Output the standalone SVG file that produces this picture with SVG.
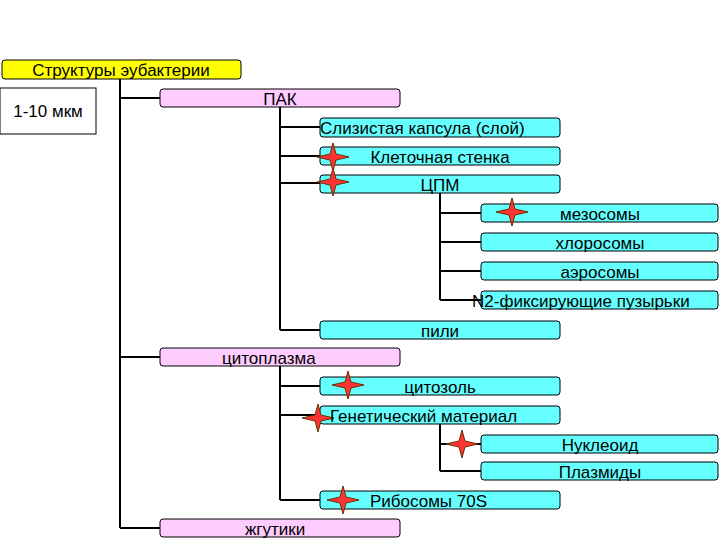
<svg xmlns="http://www.w3.org/2000/svg" xmlns:xlink="http://www.w3.org/1999/xlink" width="720" height="540" viewBox="0 0 720 540">
<defs>
<style>
text{font-family:"Liberation Sans",Arial,sans-serif;font-size:17px;fill:#000}
.c{fill:#66ffff;stroke:#000;stroke-width:1}
.p{fill:#ffccff;stroke:#000;stroke-width:1}
.y{fill:#ffff00;stroke:#000;stroke-width:1}
.l{stroke:#000;stroke-width:2;fill:none}
</style>
<path id="star" d="M0,-14 L3,-3 L16,0 L3,3 L0,14 L-3,3 L-16,0 L-3,-3 Z" fill="#ff3333" stroke="#663300" stroke-width="1"/>
</defs>
<rect width="720" height="540" fill="#fff"/>
<g id="connectors" class="l">
<path d="M120,79V528M120,98H160M120,357H160M120,528H160"/>
<path d="M280,107V330M280,127H320M280,156H320M280,183H320M280,330H320"/>
<path d="M440,193V300M440,213H481M440,242H481M440,271H481M440,300H481"/>
<path d="M280,366V500M280,386H320M280,415H320M280,500H320"/>
<path d="M440,424V471M440,444H481M440,471H481"/>
</g>
<g id="root"><rect class="y" x="2" y="60" width="239" height="19" rx="3"/><text x="121" y="76" text-anchor="middle">Структуры эубактерии</text></g>
<g id="size"><rect x="0" y="88" width="96" height="46" fill="#fff" stroke="#000"/><text x="48" y="117" text-anchor="middle" font-size="15">1-10 мкм</text></g>
<g id="pak"><rect class="p" x="160" y="89" width="240" height="18" rx="3"/><text x="280" y="105" text-anchor="middle">ПАК</text></g>
<g id="capsule"><rect class="c" x="320" y="118" width="240" height="19" rx="3"/><text x="320" y="134">Слизистая капсула (слой)</text></g>
<g id="wall"><rect class="c" x="320" y="147" width="240" height="18" rx="3"/><use xlink:href="#star" x="333" y="157"/><text x="440" y="163" text-anchor="middle">Клеточная стенка</text></g>
<g id="cpm"><rect class="c" x="320" y="175" width="240" height="18" rx="3"/><use xlink:href="#star" x="333" y="182"/><text x="440" y="191" text-anchor="middle">ЦПМ</text></g>
<g id="meso"><rect class="c" x="481" y="204" width="237" height="18" rx="3"/><use xlink:href="#star" x="512" y="212"/><text x="600" y="220" text-anchor="middle">мезосомы</text></g>
<g id="chloro"><rect class="c" x="481" y="233" width="237" height="18" rx="3"/><text x="600" y="249" text-anchor="middle">хлоросомы</text></g>
<g id="aero"><rect class="c" x="481" y="262" width="237" height="18" rx="3"/><text x="600" y="278" text-anchor="middle">аэросомы</text></g>
<g id="n2"><rect class="c" x="481" y="291" width="237" height="18" rx="3"/><text x="472" y="307">N2-фиксирующие пузырьки</text></g>
<g id="pili"><rect class="c" x="320" y="321" width="240" height="18" rx="3"/><text x="440" y="337" text-anchor="middle">пили</text></g>
<g id="cyto"><rect class="p" x="160" y="348" width="240" height="18" rx="3"/><text x="222" y="364">цитоплазма</text></g>
<g id="cytosol"><rect class="c" x="320" y="377" width="240" height="18" rx="3"/><use xlink:href="#star" x="348" y="385"/><text x="440" y="393" text-anchor="middle">цитозоль</text></g>
<g id="genetic"><rect class="c" x="320" y="406" width="240" height="18" rx="3"/><use xlink:href="#star" x="318" y="418"/><text x="330" y="422">Генетический материал</text></g>
<g id="nucleoid"><rect class="c" x="481" y="435" width="237" height="18" rx="3"/><use xlink:href="#star" x="462" y="444"/><text x="600" y="451" text-anchor="middle">Нуклеоид</text></g>
<g id="plasmid"><rect class="c" x="481" y="462" width="237" height="18" rx="3"/><text x="600" y="478" text-anchor="middle">Плазмиды</text></g>
<g id="ribo"><rect class="c" x="320" y="491" width="240" height="18" rx="3"/><use xlink:href="#star" x="343" y="500"/><text x="370" y="507">Рибосомы 70S</text></g>
<g id="flag"><rect class="p" x="160" y="519" width="240" height="18" rx="3"/><text x="245" y="535">жгутики</text></g>
</svg>
